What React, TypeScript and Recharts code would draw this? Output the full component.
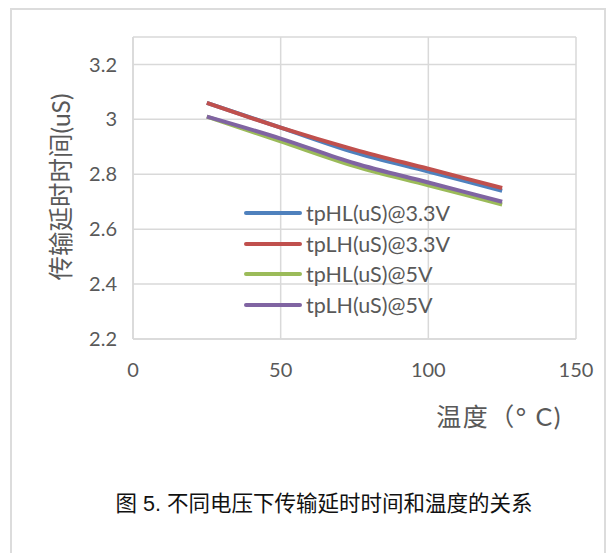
import React from "react";
import { LineChart, Line, XAxis, YAxis, CartesianGrid } from "recharts";

// temperature (°C) and delay values (uS)
const temps = [25, 50, 75, 100, 125];
const tpHL33 = [3.06, 2.97, 2.88, 2.81, 2.74];
const tpLH33 = [3.06, 2.97, 2.89, 2.82, 2.75];
const tpHL5 = [3.01, 2.92, 2.83, 2.76, 2.69];
const tpLH5 = [3.01, 2.93, 2.84, 2.77, 2.7];

const xTicks = [0, 50, 100, 150];
const yTicks = [2.2, 2.4, 2.6, 2.8, 3, 3.2];

const seriesNames = [
  "tpHL(uS)@3.3V",
  "tpLH(uS)@3.3V",
  "tpHL(uS)@5V",
  "tpLH(uS)@5V",
];
const seriesValues = [tpHL33, tpLH33, tpHL5, tpLH5];
const seriesColors = ["#4F81BD", "#C0504D", "#9BBB59", "#8064A2"];

const chartData = temps.map((t, i) => {
  const row: Record<string, number> = { temp: t };
  seriesNames.forEach((name, s) => {
    row[name] = seriesValues[s][i];
  });
  return row;
});

const FONT = "Lato, 'Noto Sans CJK SC', sans-serif";
const GRID = "#d9d9d9";
const TEXT = "#595959";

// legend sits inside the plot area, so it is drawn as an overlay
function ChartLegend() {
  return (
    <div
      style={{
        position: "absolute",
        left: 243,
        top: 198,
        fontFamily: FONT,
        fontSize: 21.5,
        color: TEXT,
      }}
    >
      {seriesNames.map((name, i) => (
        <div
          key={name}
          style={{ display: "flex", alignItems: "center", height: 30.5 }}
        >
          <svg width={63} height={10}>
            <line
              x1={3}
              y1={5}
              x2={57}
              y2={5}
              stroke={seriesColors[i]}
              strokeWidth={4}
              strokeLinecap="round"
            />
          </svg>
          <span style={{ lineHeight: "22px" }}>{name}</span>
        </div>
      ))}
    </div>
  );
}

export default function App() {
  return (
    <div
      style={{
        position: "absolute",
        left: 0,
        top: 0,
        width: 607,
        height: 553,
        background: "#fff",
        overflow: "hidden",
      }}
    >
      <div
        style={{
          position: "absolute",
          left: 10,
          top: 8,
          width: 592,
          height: 600,
          border: "2px solid #dcdcdc",
        }}
      />
      <LineChart
        width={607}
        height={553}
        data={chartData}
        margin={{ top: 37, right: 31, bottom: 174, left: 0 }}
        style={{ position: "absolute", left: 0, top: 0 }}
      >
        <CartesianGrid stroke={GRID} strokeWidth={1.5} />
        <XAxis
          type="number"
          dataKey="temp"
          domain={[0, 150]}
          ticks={xTicks}
          height={40}
          tickLine={false}
          tickSize={0}
          tickMargin={24}
          axisLine={{ stroke: GRID, strokeWidth: 1.5 }}
          tick={{ fill: TEXT, fontSize: 20, fontFamily: FONT }}
        />
        <YAxis
          type="number"
          domain={[2.2, 3.3]}
          ticks={yTicks}
          width={133}
          tickLine={false}
          tickSize={0}
          tickMargin={16}
          allowDataOverflow
          axisLine={{ stroke: GRID, strokeWidth: 1.5 }}
          tick={{ fill: TEXT, fontSize: 20, fontFamily: FONT }}
          label={{
            content: () => (
              <text
                x={60}
                y={187}
                transform="rotate(-90 60 187)"
                textAnchor="middle"
                dominantBaseline="central"
                fill={TEXT}
                fontSize={24.5}
                fontFamily={FONT}
              >
                传输延时时间(uS)
              </text>
            ),
          }}
        />
        {seriesNames.map((name, i) => (
          <Line
            key={name}
            type="monotone"
            dataKey={name}
            name={name}
            stroke={seriesColors[i]}
            strokeWidth={4}
            dot={false}
            activeDot={false}
            isAnimationActive={false}
          />
        ))}
      </LineChart>
      <ChartLegend />
      <div
        style={{
          position: "absolute",
          left: 419,
          top: 400,
          width: 160,
          textAlign: "center",
          fontFamily: FONT,
          fontSize: 25,
          letterSpacing: 1.5,
          lineHeight: "32px",
          color: TEXT,
          whiteSpace: "nowrap",
        }}
      >
        温度（° C)
      </div>
      <div
        style={{
          position: "absolute",
          left: 0,
          width: 648,
          top: 490,
          textAlign: "center",
          fontFamily: "'Liberation Sans', 'Noto Sans CJK SC', sans-serif",
          fontSize: 21.5,
          lineHeight: "28px",
          color: "#111",
          whiteSpace: "nowrap",
        }}
      >
        图 5. 不同电压下传输延时时间和温度的关系
      </div>
    </div>
  );
}
